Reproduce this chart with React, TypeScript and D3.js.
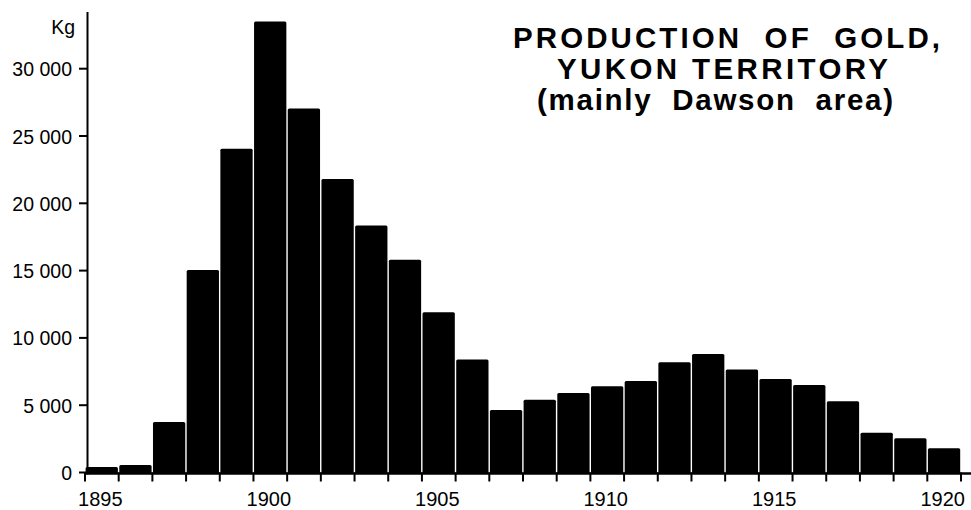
import React, { useRef, useEffect } from "react";
import * as d3 from "d3";

const years = [
  1895, 1896, 1897, 1898, 1899, 1900, 1901, 1902, 1903, 1904, 1905, 1906, 1907,
  1908, 1909, 1910, 1911, 1912, 1913, 1914, 1915, 1916, 1917, 1918, 1919, 1920,
];

// gold production, kg
const production = [
  400, 550, 3750, 15050, 24050, 33500, 27050, 21800, 18350, 15800, 11900, 8400,
  4650, 5400, 5900, 6400, 6800, 8200, 8800, 7650, 6950, 6500, 5300, 2950, 2550,
  1800,
];

const yTicks = [0, 5000, 10000, 15000, 20000, 25000, 30000];
const xLabels = [1895, 1900, 1905, 1910, 1915, 1920];
const unitLabel = "Kg";
const titleLines = ["PRODUCTION  OF  GOLD,", "YUKON TERRITORY", "(mainly  Dawson  area)"];

const FONT = "'Liberation Sans', Arial, Helvetica, sans-serif";

const App = () => {
  const ref = useRef<SVGSVGElement>(null);

  useEffect(() => {
    const svg = d3.select(ref.current);
    svg.selectAll("*").remove();

    const width = 971;
    const height = 510;
    const base = 472.5;

    const xScale = d3
      .scaleBand<number>()
      .domain(years)
      .range([85, 961])
      .paddingInner(0)
      .paddingOuter(0);

    const yScale = d3.scaleLinear().domain([0, 30000]).range([base, 68.7]);

    const bw = xScale.bandwidth();
    const data = years.map((year, i) => ({ year, value: production[i] }));

    svg.append("rect").attr("width", width).attr("height", height).attr("fill", "#fff");

    // bars
    svg
      .selectAll("rect.bar")
      .data(data)
      .join("rect")
      .attr("class", "bar")
      .attr("x", (d) => (xScale(d.year) as number) + 0.6)
      .attr("y", (d) => yScale(d.value))
      .attr("width", bw - 1.4)
      .attr("height", (d) => base - yScale(d.value) + 1)
      .attr("rx", 1.5)
      .attr("fill", "#000");

    // x axis line + ticks at bar edges
    svg
      .append("line")
      .attr("x1", 84)
      .attr("x2", width)
      .attr("y1", base + 1)
      .attr("y2", base + 1)
      .attr("stroke", "#000")
      .attr("stroke-width", 2.5);

    const edges = [...years.map((y) => xScale(y) as number), 961];
    svg
      .selectAll("line.xtick")
      .data(edges)
      .join("line")
      .attr("class", "xtick")
      .attr("x1", (d) => d)
      .attr("x2", (d) => d)
      .attr("y1", base)
      .attr("y2", base + 9)
      .attr("stroke", "#000")
      .attr("stroke-width", 2);

    svg
      .selectAll("text.xlabel")
      .data(xLabels)
      .join("text")
      .attr("class", "xlabel")
      .attr("x", (d) => (xScale(d) as number) + bw / 2 - 1.5)
      .attr("y", 506)
      .attr("text-anchor", "middle")
      .attr("font-family", FONT)
      .attr("font-size", 20)
      .attr("fill", "#000")
      .text((d) => d);

    // y axis
    svg
      .append("line")
      .attr("x1", 87.5)
      .attr("x2", 87.5)
      .attr("y1", 12)
      .attr("y2", base + 2)
      .attr("stroke", "#000")
      .attr("stroke-width", 2);

    svg
      .selectAll("line.ytick")
      .data(yTicks)
      .join("line")
      .attr("class", "ytick")
      .attr("x1", 79)
      .attr("x2", 87.5)
      .attr("y1", (d) => yScale(d))
      .attr("y2", (d) => yScale(d))
      .attr("stroke", "#000")
      .attr("stroke-width", 2);

    const fmt = (v: number) => d3.format(",")(v).replace(/,/g, " ");
    svg
      .selectAll("text.ylabel")
      .data(yTicks)
      .join("text")
      .attr("class", "ylabel")
      .attr("x", 72)
      .attr("y", (d) => yScale(d) + 7.5)
      .attr("text-anchor", "end")
      .attr("font-family", FONT)
      .attr("font-size", 19.5)
      .attr("fill", "#000")
      .text((d) => fmt(d));

    svg
      .append("text")
      .attr("x", 75)
      .attr("y", 34)
      .attr("text-anchor", "end")
      .attr("font-family", FONT)
      .attr("font-size", 19.5)
      .attr("fill", "#000")
      .text(unitLabel);

    // title, letter-spaced like the original
    const titlePos = [
      { x: 513, y: 47.5, w: 427 },
      { x: 557, y: 78.5, w: 331 },
      { x: 537, y: 109.5, w: 356 },
    ];
    titleLines.forEach((line, i) => {
      svg
        .append("text")
        .attr("x", titlePos[i].x)
        .attr("y", titlePos[i].y)
        .attr("font-family", FONT)
        .attr("font-weight", "bold")
        .attr("font-size", 29.5)
        .attr("textLength", titlePos[i].w)
        .attr("lengthAdjust", "spacing")
        .attr("fill", "#000")
        .style("white-space", "pre")
        .text(line);
    });
  }, []);

  return (
    <svg
      ref={ref}
      width={971}
      height={510}
      style={{ position: "absolute", left: 0, top: 0 }}
    ></svg>
  );
};

export default App;
